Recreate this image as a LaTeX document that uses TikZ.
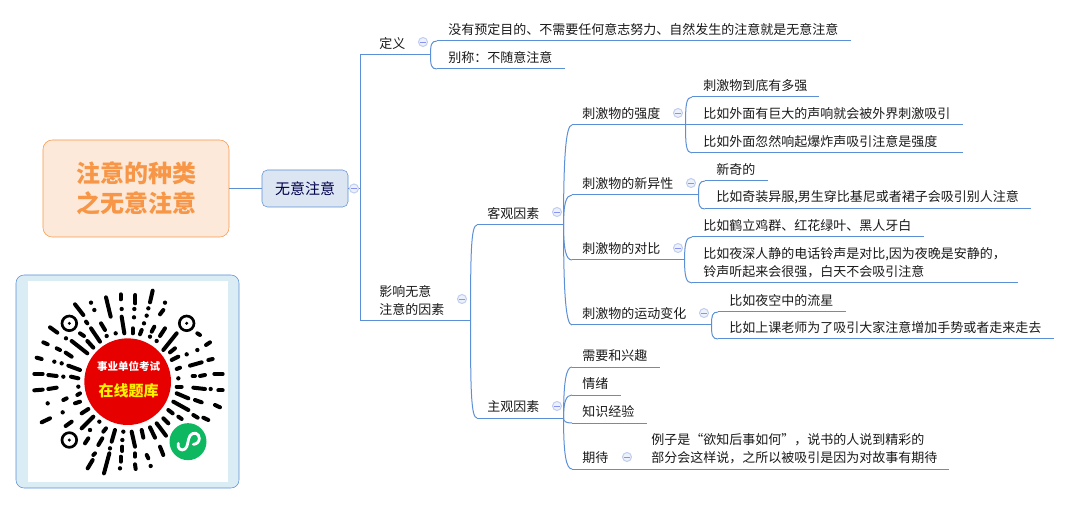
\documentclass[tikz,border=0pt]{standalone}
\usepackage{fontspec}
\usetikzlibrary{calc}
\setmainfont{Noto Sans CJK SC}
\definecolor{rootFill}{HTML}{FDE9DA}
\definecolor{rootLine}{HTML}{F79646}
\definecolor{mainFill}{HTML}{DCE6F2}
\definecolor{wire}{HTML}{5B8FD6}
\definecolor{foldFill}{HTML}{EDF1FB}
\definecolor{foldLine}{HTML}{C3CFEF}
\definecolor{qrFill}{HTML}{DAEDF4}
\definecolor{qrRed}{HTML}{E60000}
\definecolor{qrGreen}{HTML}{0DB860}
\newcommand*{\pxx}{.75pt}
\tikzset{
	topic/.style 2 args={anchor=south west,inner xsep=#2*\pxx,inner ysep=3.75pt,text width=(#1-2*#2)*\pxx,align=left,text=black!90,font=\fontsize{9.75}{13.5}\selectfont},
	wireline/.style={draw=wire,line width=.75pt},
	fold/.style={circle,draw=foldLine,fill=foldFill,line width=.8pt,minimum size=9*\pxx,inner sep=0pt,
		path picture={\draw[foldLine!70!blue,line width=.6pt] ([xshift=-2pt]path picture bounding box.center) -- ([xshift=2pt]path picture bounding box.center);}},
}

\begin{document}
\begin{tikzpicture}[x=.75pt,y=-.75pt]
	\useasboundingbox (0,0) rectangle (1069,505);
	
	\node[draw=rootLine,fill=rootFill,rounded corners=7pt,minimum width=186*\pxx,minimum height=97*\pxx,align=center,text=rootLine,font=\fontsize{18}{22.5}\selectfont\bfseries] (root) at (136,188.5) {注意的种类\\之无意注意};
	\node[draw=wire,fill=mainFill,rounded corners=4pt,minimum width=86*\pxx,minimum height=37*\pxx,text=blue!30!black,font=\fontsize{11.25}{13.5}\selectfont] (main) at (305,188.5) {无意注意};
	\coordinate (trunk) at (360,188.5);
	
	% first level
	\node[topic={70}{19}] (defn) at (360,55) {定义};
	\node[topic={110}{19}] (infl) at (360,321) {影响无意\\注意的因素};
	\node[topic={413}{11}] (defnA) at (437,41) {没有预定目的、不需要任何意志努力、自然发生的注意就是无意注意};
	\node[topic={127}{11}] (defnB) at (437,69) {别称：不随意注意};
	\node[topic={86}{10}] (obj) at (477,225) {客观因素};
	\node[topic={86}{10}] (subj) at (477,418) {主观因素};
	
	% objective factors
	\node[topic={113}{10}] (strong) at (572,125) {刺激物的强度};
	\node[topic={126}{10}] (novel) at (572,195) {刺激物的新异性};
	\node[topic={112}{10}] (contrast) at (572,260) {刺激物的对比};
	\node[topic={139}{10}] (moving) at (572,325) {刺激物的运动变化};
	\node[topic={126}{11}] (strongA) at (692,97) {刺激物到底有多强};
	\node[topic={270}{11}] (strongB) at (692,125) {比如外面有巨大的声响就会被外界刺激吸引};
	\node[topic={270}{11}] (strongC) at (692,153) {比如外面忽然响起爆炸声吸引注意是强度};
	\node[topic={62}{11}] (novelA) at (705,181) {新奇的};
	\node[topic={325}{11}] (novelB) at (705,209) {比如奇装异服,男生穿比基尼或者裙子会吸引别人注意};
	\node[topic={231}{11}] (contrastA) at (692,237) {比如鹤立鸡群、红花绿叶、黑人牙白};
	\node[topic={325}{11}] (contrastB) at (692,283) {比如夜深人静的电话铃声是对比,因为夜晚是安静的，\\铃声听起来会很强，白天不会吸引注意};
	\node[topic={127}{11}] (movingA) at (718,312) {比如夜空中的流星};
	\node[topic={335}{11}] (movingB) at (718,339) {比如上课老师为了吸引大家注意增加手势或者走来走去};
	
	% subjective factors
	\node[topic={87}{10}] (need) at (572,367) {需要和兴趣};
	\node[topic={48}{10}] (mood) at (572,395) {情绪};
	\node[topic={74}{10}] (know) at (572,423) {知识经验};
	\node[topic={67}{10}] (expect) at (572,469) {期待};
	\node[topic={309}{12}] (expectA) at (639,469) {例子是“欲知后事如何”，说书的人说到精彩的\\部分会这样说，之所以被吸引是因为对故事有期待};
	
	% connectors
	\draw[wireline] (root) -- (main);
	\draw[wireline] (main) -- (trunk);
	\foreach \a/\b in {trunk/defn,trunk/infl} {
		\draw[wireline] (\a) |- (\b.south west);
	}
	\foreach \a in {defn,defnA,defnB,infl,obj,subj,strong,novel,contrast,moving,strongA,strongB,strongC,novelA,novelB,contrastA,contrastB,movingA,movingB,need,mood,know,expect,expectA} {
		\draw[wireline] (\a.south west) -- (\a.south east);
	}
	\foreach \a/\b in {defn/defnA,defn/defnB,infl/obj,infl/subj,obj/strong,obj/novel,obj/contrast,obj/moving,strong/strongA,strong/strongC,novel/novelA,novel/novelB,contrast/contrastA,contrast/contrastB,moving/movingA,moving/movingB,subj/need,subj/mood,subj/know,subj/expect} {
		\draw[wireline] (\a.south east) .. controls ($(\a.south east)!.7!(\a.south east|-\b.south west)$) and ($(\b.south west)+(-6,0)$) .. (\b.south west);
	}
	\draw[wireline] (strong.south east) -- (strongB.south west);
	
	% fold marks
	\foreach \n/\x/\y in {a/354/188.5,b/423/42,c/462/299,d/557/212,e/557/406,f/678/113,g/691/183,h/678/248,i/704/313,j/627/457} {
		\node[fold] (fold\n) at (\x,\y) {};
	}
	
	% qr card, drawn in the coordinates of a 3x crop
	\node[draw=wire,fill=qrFill,rounded corners=6pt,minimum width=223*\pxx,minimum height=213*\pxx] (card) at (127.5,381.5) {};
	\node[fill=white,minimum width=200*\pxx,minimum height=200*\pxx] (paper) at (128,381.5) {};
	\begin{scope}[shift={(0,265)},x=.25pt,y=-.25pt]
		\foreach \xa/\ya/\xb/\yb in {362/88/362/103,406/90/406/115,458/77/450/112,318/97/332/155,490/135/480/148,225/118/250/150,258/170/262/175,303/175/315/195,365/155/373/205,398/190/398/205,425/195/420/208,463/185/455/200,495/190/480/213,150/187/172/203,240/205/252/213,273/190/300/230,530/205/490/255,130/232/143/238,215/228/262/265,262/228/280/248,630/232/618/240,592/205/600/210,170/250/180/255,197/263/215/275,510/262/525/250,110/278/125/282,205/302/240/315,515/285/535/275,570/302/605/292,625/285/638/282,103/327/128/327,145/330/170/333,213/335/235/340,530/312/540/308,578/333/585/333,600/333/615/330,643/327/668/327,103/376/128/374,145/372/170/368,232/390/240/385,530/365/545/365,580/368/615/372,655/376/668/376,190/405/200/400,225/415/240/410,530/385/565/400,585/405/605/412,645/420/660/427,245/445/265/432,520/410/565/435,580/450/593/458,610/458/625/465,125/472/150/460,197/483/215/470,245/490/280/455,505/435/518/445,535/455/545/462,490/460/505/475,318/490/310/500,345/495/335/530,395/500/405/545,425/495/430/518,450/487/465/518,470/475/498/512,265/520/255/535,307/520/295/540,367/545/367/558,285/565/280/570,405/565/405/575,480/545/490/570,440/570/445/580,328/565/312/625,362/575/362/590,278/585/263/610,405/598/407/612} {
			\draw[line width=3pt,line cap=round,black] (\xa,\ya) -- (\xb,\yb);
		}
		\foreach \x/\y in {273/113,283/135,365/132,403/132,445/130,495/113,402/157,440/152,432/175,320/213,347/205,450/215,198/220,470/228,592/255,560/268,163/290,185/295,190/335,235/365,535/340,632/372,143/415,188/442,298/470,270/495,370/500,330/550,367/525,360/610,452/603} {
			\fill[black] (\x,\y) circle (6.5);
		}
		\foreach \x/\y in {208/175,560/175,208/525} {
			\draw[black,line width=2pt] (\x,\y) circle (22);
			\fill[black] (\x,\y) circle (5);
		}
		\node[circle,fill=qrRed,minimum size=130*\pxx*2/3,inner sep=0pt] (redDot) at (383,350) {};
		\node[text=white,font=\fontsize{7.9}{9}\selectfont\bfseries] (examName) at (386,303) {事业单位考试};
		\node[text=yellow,font=\fontsize{11.25}{13}\selectfont\bfseries] (bankName) at (386,378) {在线题库};
		\node[circle,fill=qrGreen,minimum size=111*\pxx/3,inner sep=0pt] (wxDot) at (564,530) {};
		\draw[white,line width=2.1pt,line cap=round] (535,535) .. controls (530,550) and (545,560) .. (555,552) .. controls (565,545) and (562,525) .. (570,512) .. controls (580,498) and (598,505) .. (598,520) .. controls (598,532) and (588,538) .. (580,538);
	\end{scope}
\end{tikzpicture}
\end{document}
